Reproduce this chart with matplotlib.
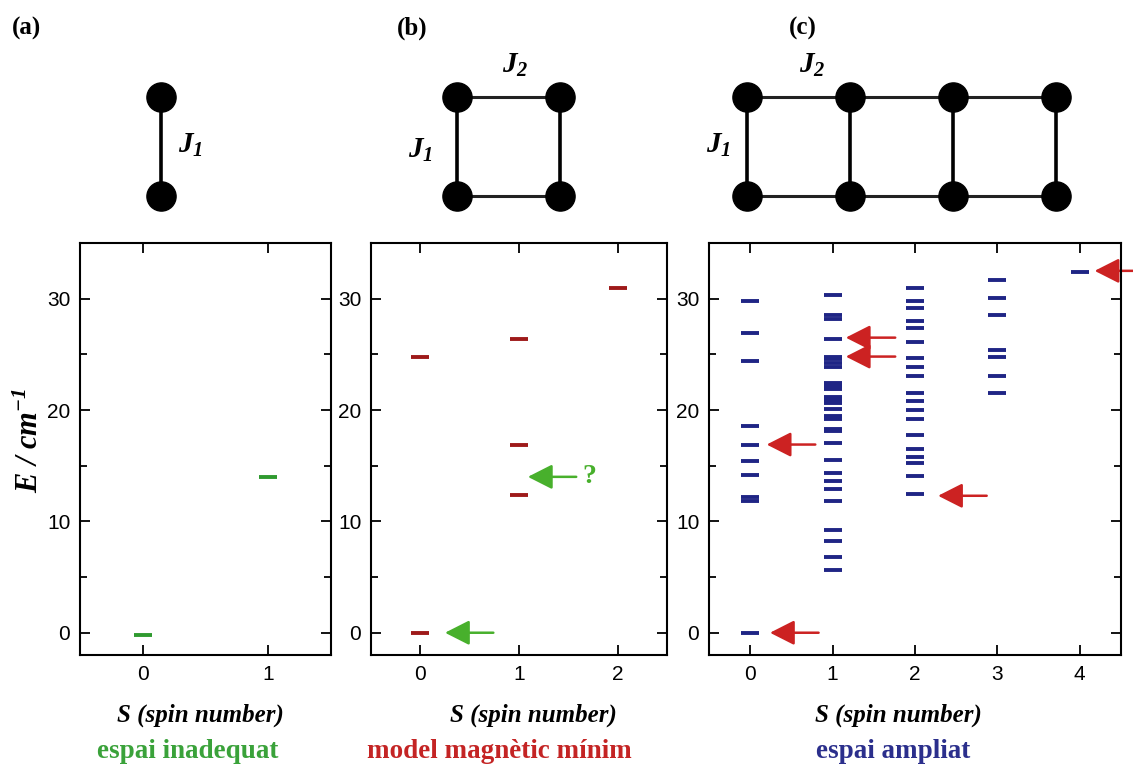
"""Energy level diagrams for the spin ladder models (a), (b), (c)"""

import numpy as np
import matplotlib.pyplot as plt
from matplotlib.patches import FancyArrowPatch
from matplotlib.ticker import MultipleLocator

plt.rcParams["mathtext.fontset"] = "custom"
plt.rcParams["mathtext.rm"] = "Liberation Serif:bold:italic"
plt.rcParams["mathtext.it"] = "Liberation Serif:bold:italic"
plt.rcParams["mathtext.bf"] = "Liberation Serif:bold:italic"

# energy levels: spin S -> list of E (cm-1)
levels_a = {0: [-0.2], 1: [14.0]}
levels_b = {0: [24.8, 0.0], 1: [26.4, 16.9, 12.4], 2: [31.0]}
levels_c = {
    0: [29.8, 26.9, 24.4, 18.6, 16.9, 15.4, 14.2, 12.2, 11.8, 0.0],
    1: [30.3, 28.5, 28.2, 26.4, 24.8, 24.6, 24.2, 23.9, 22.4, 22.2, 21.9,
        21.2, 20.9, 20.6, 20.1, 19.5, 19.2, 18.3, 18.1, 17.0, 15.5, 14.3,
        13.6, 12.9, 11.8, 9.2, 8.2, 6.8, 5.6],
    2: [31.0, 29.8, 29.2, 28.0, 27.4, 26.1, 24.7, 23.9, 23.1, 21.5, 20.8,
        20.0, 19.2, 17.8, 16.5, 15.8, 15.2, 14.1, 12.5],
    3: [31.7, 30.1, 28.5, 25.4, 24.8, 23.1, 21.5],
    4: [32.4],
}

# arrows: (S tail, S tip, E)
arrows_b = [(0.74, 0.25, 0.0), (1.58, 1.09, 14.0)]
arrows_c = [(0.83, 0.24, 0.0), (0.79, 0.20, 16.9), (1.76, 1.16, 26.5),
            (1.76, 1.16, 24.8), (2.87, 2.28, 12.3), (4.65, 4.18, 32.5)]

panel_names = ["(a)", "(b)", "(c)"]
subtitles = ["espai inadequat", "model magnètic mínim", "espai ampliat"]
rungs = [1, 2, 4]

GREEN = "#2f9a2f"
DARKRED = "#9e1a1a"
NAVY = "#1f2585"
ARROW_RED = "#cc2222"
ARROW_GREEN = "#48b02c"
TXT_COLORS = ["#3aa23a", "#c42424", "#2b2f8c"]

W, H = 1133, 769
fig = plt.figure(figsize=(W / 100, H / 100), dpi=100)

serif = "Liberation Serif"
sans = "Liberation Sans"


def px_axes(left, right, top, bottom):
    return fig.add_axes([left / W, 1 - bottom / H, (right - left) / W, (bottom - top) / H])


axes = [px_axes(80, 331, 243, 655), px_axes(371, 667, 243, 655), px_axes(709, 1121, 243, 655)]
data = [(levels_a, GREEN), (levels_b, DARKRED), (levels_c, NAVY)]

for ax, (levels, col) in zip(axes, data):
    nS = len(levels)
    for s, es in levels.items():
        ax.plot([s] * len(es), es, "_", color=col, ms=13.5, mew=2.8)
    ax.set_xlim(-0.5, nS - 0.5)
    ax.set_ylim(-2, 35)
    ax.set_xticks(range(nS))
    ax.yaxis.set_major_locator(MultipleLocator(10))
    ax.yaxis.set_minor_locator(MultipleLocator(5))
    ax.tick_params(which="both", direction="in", top=True, right=True, width=1.3)
    ax.tick_params(which="major", length=7, labelsize=15, pad=7)
    ax.tick_params(which="minor", length=5)
    for lab in ax.get_xticklabels() + ax.get_yticklabels():
        lab.set_fontfamily(sans)
    for sp in ax.spines.values():
        sp.set_linewidth(1.5)


def draw_arrows(ax, arrows, col):
    for x0, x1, e in arrows:
        a = FancyArrowPatch((x0, e), (x1, e), arrowstyle="-|>,head_length=0.75,head_width=0.38",
                            mutation_scale=20, color=col, lw=1.8, clip_on=False,
                            shrinkA=0, shrinkB=0)
        ax.add_patch(a)


draw_arrows(axes[1], arrows_b, ARROW_GREEN)
draw_arrows(axes[2], arrows_c, ARROW_RED)
axes[1].text(1.71, 14.0, "?", color=ARROW_GREEN, fontsize=20, fontweight="bold",
             family=serif, ha="center", va="center")

fig.text(30 / W, 1 - 440 / H, r"E / cm$^{-1}$", rotation=90,
         fontsize=22, ha="center", va="center", family=serif, fontweight="bold",
         style="italic")

# bottom labels
for xc, txt_x, name, col in zip([200, 533, 898], [188, 499, 893], subtitles, TXT_COLORS):
    fig.text(xc / W, 1 - 715 / H, "S (spin number)", fontsize=18, family=serif,
             fontweight="bold", style="italic", ha="center", va="center")
    fig.text(txt_x / W, 1 - 752 / H, name, fontsize=19.5, family=serif,
             fontweight="bold", color=col, ha="center", va="center")

# lattice sketches on top
top = fig.add_axes([0, 0, 1, 1], zorder=-1)
top.set_xlim(0, W)
top.set_ylim(H, 0)
top.axis("off")

x_starts = [161, 457, 747]
spacing = 103
y_up, y_dn = 97, 196
for i, (n, x0) in enumerate(zip(rungs, x_starts)):
    xs = x0 + spacing * np.arange(n)
    if n > 1:
        top.plot(xs, [y_up] * n, color="#222222", lw=2.2)
        top.plot(xs, [y_dn] * n, color="#222222", lw=2.2)
    for x in xs:
        top.plot([x, x], [y_up, y_dn], color="black", lw=2.6)
    top.plot(np.concatenate([xs, xs]), [y_up] * n + [y_dn] * n, "o", color="black", ms=21)
    fig.text((12 + [0, 385, 777][i]) / W, 1 - 28 / H, panel_names[i], fontsize=18,
             family=serif, fontweight="bold", va="center")

jlab = dict(fontsize=21, ha="center", va="center")
top.text(190, 145, r"$J_1$", **jlab)
top.text(420, 150, r"$J_1$", **jlab)
top.text(515, 65, r"$J_2$", **jlab)
top.text(718, 145, r"$J_1$", **jlab)
top.text(812, 65, r"$J_2$", **jlab)

fig.savefig("out.png", dpi=100)
